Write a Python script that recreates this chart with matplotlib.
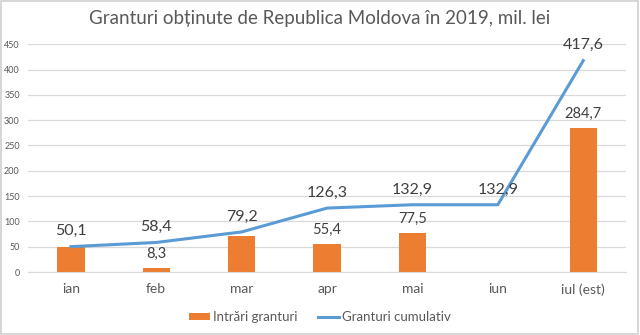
import matplotlib
matplotlib.use("Agg")
import matplotlib.pyplot as plt
from matplotlib.patches import Rectangle

plt.rcParams['font.family'] = ['Lato', 'DejaVu Sans']

months = ["ian", "feb", "mar", "apr", "mai", "iun", "iul (est)"]
intrari = [50.1, 8.3, 70.8, 55.4, 77.5, 0.0, 284.7]
intrari_labels = [None, "8,3", None, "55,4", "77,5", None, "284,7"]
cumulativ = [50.1, 58.4, 79.2, 126.3, 132.9, 132.9, 417.6]
yticks = [0, 50, 100, 150, 200, 250, 300, 350, 400, 450]

fig = plt.figure(figsize=(6.4, 3.35), dpi=100)
ax = fig.add_axes([0.044, 0.188, 0.934, 0.68])

x = list(range(len(months)))
bars = ax.bar(x, intrari, width=0.32, color="#ED7D31", label="Intrări granturi", zorder=2)
line, = ax.plot(x, cumulativ, color="#5B9BD5", lw=2.2, label="Granturi cumulativ", zorder=3)

for xi, v, lab in zip(x, intrari, intrari_labels):
    if lab:
        ax.annotate(lab, (xi, v), xytext=(0, 5), textcoords="offset points",
                    ha="center", va="bottom", fontsize=10.5, color="#404040")
for xi, v in zip(x, cumulativ):
    ax.annotate(f"{v:.1f}".replace(".", ","), (xi, v), xytext=(0, 6), textcoords="offset points",
                ha="center", va="bottom", fontsize=11.5, color="#404040")

ax.set_xlim(-0.5, len(months) - 0.5)
ax.set_ylim(0, 450)
ax.set_yticks(yticks)
ax.set_xticks(x)
ax.set_xticklabels(months)
ax.tick_params(axis="y", labelsize=6.5, colors="#595959", length=0, pad=6)
ax.tick_params(axis="x", labelsize=10, colors="#595959", length=0, pad=8)
ax.grid(axis="y", color="#D9D9D9", lw=0.9, zorder=0)
ax.set_axisbelow(True)
for s in ["top", "right", "left"]:
    ax.spines[s].set_visible(False)
ax.spines["bottom"].set_color("#D9D9D9")

fig.suptitle("Granturi obținute de Republica Moldova în 2019, mil. lei", y=0.97,
             fontsize=13.5, color="#595959")
fig.legend([bars, line], ["Intrări granturi", "Granturi cumulativ"],
           loc="lower center", bbox_to_anchor=(0.5, 0.0), ncol=2, frameon=False,
           fontsize=9.5, labelcolor="#595959", handlelength=1.6, handleheight=0.5,
           handletextpad=0.2, columnspacing=1.6)

fig.patches.append(Rectangle((0.002, 0.004), 0.995, 0.992, transform=fig.transFigure,
                             fill=False, edgecolor="#D0D0D0", lw=1.2))
fig.savefig("out.png", dpi=100)
